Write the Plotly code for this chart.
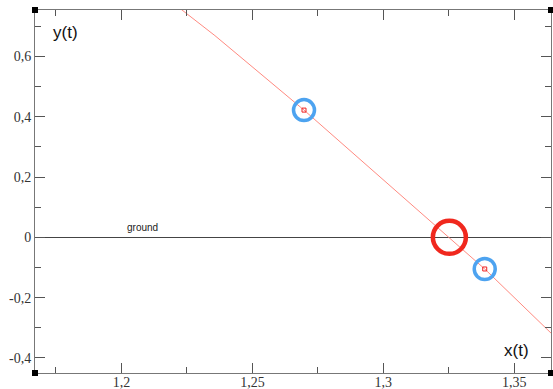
import plotly.graph_objects as go

# trajectory
x_path = [1.215, 1.2357, 1.2697, 1.3252, 1.3387, 1.37]
y_path = [0.809, 0.669, 0.422, 0.0, -0.105, -0.368]

# sampled positions (blue) and ground hit (red)
x_samples = [1.2697, 1.3387]
y_samples = [0.422, -0.105]
x_hit = [1.3252]
y_hit = [0.0]

x_tickvals = [1.2, 1.25, 1.3, 1.35]
x_ticktext = ["1,2", "1,25", "1,3", "1,35"]
y_tickvals = [-0.4, -0.2, 0, 0.2, 0.4, 0.6]
y_ticktext = ["-0,4", "-0,2", "0", "0,2", "0,4", "0,6"]

x_range = [1.167, 1.364]
y_range = [-0.45, 0.754]

fig = go.Figure()
fig.add_trace(go.Scatter(x=x_path, y=y_path, mode="lines",
                         line=dict(color="#ff8a80", width=1), hoverinfo="skip"))
fig.add_trace(go.Scatter(x=x_samples, y=y_samples, mode="markers",
                         marker=dict(symbol="circle-open", size=21, color="#4da3f0",
                                     line=dict(color="#4da3f0", width=3.5))))
fig.add_trace(go.Scatter(x=x_samples, y=y_samples, mode="markers",
                         marker=dict(symbol="square-open", size=4, color="#ee2222",
                                     line=dict(color="#ee2222", width=1))))
fig.add_trace(go.Scatter(x=x_hit, y=y_hit, mode="markers",
                         marker=dict(symbol="circle-open", size=33, color="#f0281e",
                                     line=dict(color="#f0281e", width=4.5))))

axis_common = dict(showline=True, linecolor="#777", linewidth=1, mirror="ticks",
                   ticks="inside", ticklen=10, tickcolor="#555", tickwidth=1,
                   showgrid=False, automargin=False,
                   tickfont=dict(family="Liberation Serif", size=14, color="#333"))

fig.update_xaxes(range=x_range, tickvals=x_tickvals, ticktext=x_ticktext,
                 zeroline=False, ticklabelstandoff=-4,
                 minor=dict(ticks="inside", ticklen=6, dtick=0.025, tick0=1.2,
                            tickcolor="#555", showgrid=False),
                 **axis_common)
fig.update_yaxes(range=y_range, tickvals=y_tickvals, ticktext=y_ticktext,
                 zeroline=True, zerolinecolor="#444", zerolinewidth=1,
                 minor=dict(ticks="inside", ticklen=6, dtick=0.1, tick0=0,
                            tickcolor="#555", showgrid=False),
                 **axis_common)

fig.add_annotation(x=1.1788, y=0.681, text="y(t)", showarrow=False,
                   font=dict(family="Liberation Sans", size=17, color="#111"))
fig.add_annotation(x=1.351, y=-0.374, text="x(t)", showarrow=False,
                   font=dict(family="Liberation Sans", size=17, color="#111"))
fig.add_annotation(x=1.2082, y=0.034, text="ground", showarrow=False,
                   font=dict(family="Liberation Sans", size=10, color="#222"))

for cx in (0, 1):
    for cy in (0, 1):
        fig.add_shape(type="rect", xref="paper", yref="paper",
                      xsizemode="pixel", ysizemode="pixel",
                      xanchor=cx, yanchor=cy, x0=-3, x1=3, y0=-3, y1=3,
                      fillcolor="black", line=dict(width=0))

fig.update_layout(width=553, height=389, showlegend=False, autosize=False,
                  margin=dict(l=35, r=2, t=10, b=16, autoexpand=False),
                  plot_bgcolor="white", paper_bgcolor="white")

fig.write_html("out.html", config={"displayModeBar": False},
               post_script="document.body.style.margin='0';document.body.style.overflow='hidden';")
